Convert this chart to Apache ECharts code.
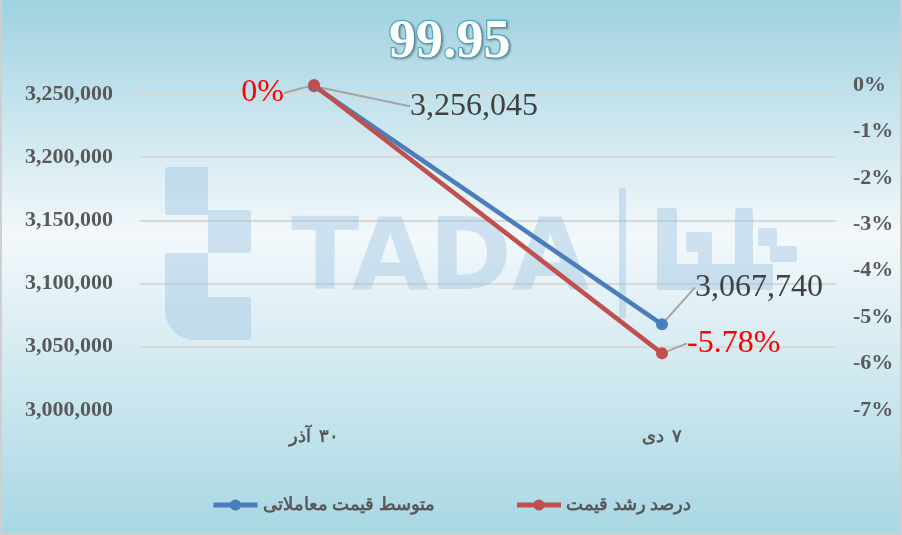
<!DOCTYPE html>
<html>
<head>
<meta charset="utf-8">
<script src="https://cdn.jsdelivr.net/npm/echarts@6/dist/echarts.min.js"></script>
<style>
html,body{margin:0;padding:0;background:#fff;}
#chart{width:902px;height:535px;}
</style>
</head>
<body>
<div id="chart"></div>
<script>
// ---- data ----
const categories = ['۳۰ آذر', '۷ دی'];
const avgPrice = [3256045, 3067740];          // متوسط قیمت معاملاتی (left axis)
const growthPct = [0, -5.78];                   // درصد رشد قیمت (right axis, %)
const seriesNames = ['متوسط قیمت معاملاتی', 'درصد رشد قیمت'];
const titleText = '99.95';
const leftAxisMin = 3000000, leftAxisMax = 3257000, leftAxisStep = 50000;
const rightAxisMin = -7, rightAxisMax = 0, rightAxisStep = 1;

const serif = "'Liberation Serif', 'Times New Roman', 'DejaVu Serif', serif";
const fmtNum = v => v.toLocaleString('en-US');

const chart = echarts.init(document.getElementById('chart'));

const wm = 'rgba(140,185,222,0.36)';
// watermark pieces [x, y, w, h, radius]
const wmRects = [
  [165, 167, 43, 48, [3, 0, 0, 3]],
  [208, 210, 43, 43, [0, 3, 3, 0]],
  [165, 253, 43, 87, [0, 0, 0, 30]],
  [208, 297, 43, 43, [0, 3, 3, 0]],
  [619, 188, 7, 130, 0],
  [657, 208, 20, 82, [3, 3, 0, 3]],
  [677, 264, 96, 26, [0, 0, 3, 0]],
  [686, 232, 26, 20, 2],
  [698, 252, 14, 12, 0],
  [735, 208, 18, 56, [3, 3, 0, 0]],
  [758, 228, 19, 18, [3, 3, 0, 0]],
  [770, 246, 27, 16, [0, 3, 3, 3]]
];
const wmGraphics = wmRects.map(r => ({
  type: 'rect', z: 1, silent: true,
  shape: {x: r[0], y: r[1], width: r[2], height: r[3], r: r[4]},
  style: {fill: wm}
}));

const xLabelFont = {fontFamily: serif, fontWeight: 'bold', fontSize: 18, color: '#595959'};

const option = {
  animation: false,
  backgroundColor: {
    type: 'linear', x: 0, y: 0, x2: 0, y2: 1,
    colorStops: [
      {offset: 0, color: '#9fd2e0'},
      {offset: 0.44, color: '#f3f8fb'},
      {offset: 1, color: '#a8d7e3'}
    ]
  },
  title: {
    text: titleText,
    left: 384,
    top: 11,
    textStyle: {
      fontFamily: serif, fontWeight: 'bold', fontSize: 54,
      color: '#ffffff', textBorderColor: '#4aadc6', textBorderWidth: 2.5,
      textShadowColor: 'rgba(80,80,80,0.35)', textShadowBlur: 2, textShadowOffsetX: 1.5, textShadowOffsetY: 1.5
    }
  },
  graphic: [
    // border
    {type: 'line', shape: {x1: 1, y1: 0, x2: 1, y2: 535}, style: {stroke: '#cfcfcf', lineWidth: 2}, silent: true},
    {type: 'line', shape: {x1: 901, y1: 0, x2: 901, y2: 535}, style: {stroke: '#cfcfcf', lineWidth: 2}, silent: true},
    {type: 'line', shape: {x1: 0, y1: 534, x2: 902, y2: 534}, style: {stroke: '#cfcfcf', lineWidth: 2}, silent: true},
    {type: 'text', z: 1, left: 291, top: 213, silent: true,
     style: {text: 'TADA', fontFamily: "'DejaVu Sans', sans-serif", fontWeight: 'bold', fontSize: 100, fill: wm}}
  ].concat(wmGraphics),
  legend: {
    bottom: 16,
    left: 'center',
    itemWidth: 44,
    itemHeight: 14,
    itemGap: 80,
    lineStyle: {width: 5},
    textStyle: {fontFamily: serif, fontWeight: 'bold', fontSize: 18, color: '#595959'},
    data: seriesNames
  },
  grid: {left: 140, right: 66, top: 85, bottom: 125},
  xAxis: {
    type: 'category',
    data: categories,
    boundaryGap: true,
    axisLine: {lineStyle: {color: '#d9d9d9', width: 1}},
    axisTick: {show: true, length: 5, lineStyle: {color: '#d9d9d9'}},
    axisLabel: Object.assign({
      margin: 18,
      // lay the word and the number out explicitly (word left, number right)
      formatter: v => {
        const parts = v.split(' ');
        return '{w|' + parts.slice(1).join(' ') + '}{d|' + parts[0] + '}';
      },
      rich: {w: xLabelFont, d: Object.assign({padding: [0, 0, 0, 8]}, xLabelFont)}
    }, xLabelFont)
  },
  yAxis: [
    {
      type: 'value',
      min: leftAxisMin, max: leftAxisMax, interval: leftAxisStep,
      axisLine: {show: false},
      axisTick: {show: false},
      splitLine: {show: true, showMaxLine: false, showMinLine: false, lineStyle: {color: '#d9d9d9', width: 2}},
      axisLabel: {
        margin: 27, fontFamily: serif, fontWeight: 'bold', fontSize: 22, color: '#595959',
        showMaxLabel: false,
        formatter: v => (v % leftAxisStep === 0 ? fmtNum(v) : '')
      }
    },
    {
      type: 'value',
      min: rightAxisMin, max: rightAxisMax, interval: rightAxisStep,
      axisLine: {show: false},
      axisTick: {show: false},
      splitLine: {show: false},
      axisLabel: {
        margin: 17, fontFamily: serif, fontWeight: 'bold', fontSize: 22, color: '#595959',
        formatter: v => Math.round(v) + '%'
      }
    }
  ],
  series: [
    {
      name: seriesNames[0],
      type: 'line',
      yAxisIndex: 0,
      data: avgPrice,
      symbol: 'circle',
      symbolSize: 12,
      z: 3,
      itemStyle: {color: '#4a7ebb'},
      lineStyle: {color: '#4a7ebb', width: 4.5},
      label: {
        show: true, position: 'right', distance: 5,
        fontFamily: serif, fontSize: 32, color: '#404040',
        formatter: p => fmtNum(p.value)
      },
      labelLine: {show: true, lineStyle: {color: '#a6a6a6', width: 2}},
      labelLayout: p => p.dataIndex === 0 ? {dx: 85, dy: 20} : {dx: 22, dy: -37}
    },
    {
      name: seriesNames[1],
      type: 'line',
      yAxisIndex: 1,
      data: growthPct,
      symbol: 'circle',
      symbolSize: 12,
      z: 4,
      itemStyle: {color: '#c0504d'},
      lineStyle: {color: '#c0504d', width: 4.5},
      label: {
        show: true, fontFamily: serif, fontSize: 32, color: '#ff0000',
        position: 'right', distance: 5,
        formatter: p => (Math.round(p.value * 100) / 100) + '%'
      },
      labelLine: {show: true, lineStyle: {color: '#a6a6a6', width: 2}},
      labelLayout: p => p.dataIndex === 0 ? {x: 284, y: 93, align: 'right', verticalAlign: 'middle'} : {dx: 14, dy: -10}
    }
  ]
};
chart.setOption(option);
</script>
</body>
</html>
